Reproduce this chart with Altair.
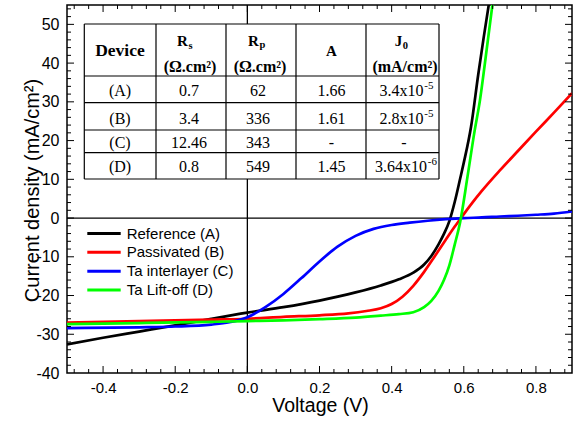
import altair as alt
import pandas as pd

# ---------------- data ----------------
names = ["Reference (A)", "Passivated (B)", "Ta interlayer (C)", "Ta Lift-off (D)"]
colors = ["#000000", "#ff0000", "#0000ff", "#00ff00"]

v_ref = [-0.5, -0.4, -0.3, -0.2, -0.1, 0.0, 0.1, 0.2, 0.3, 0.37, 0.42, 0.46, 0.49, 0.51,
         0.53, 0.545, 0.56, 0.575, 0.59, 0.6, 0.62, 0.64, 0.655, 0.67]
j_ref = [-32.6, -30.9, -29.3, -27.7, -26.0, -24.4, -23.0, -21.3, -19.2, -17.4, -15.8, -14.1,
         -12.0, -9.8, -6.8, -4.1, -0.8, 4.2, 10.2, 14.3, 23.5, 37.0, 46.5, 55.5]

v_pas = [-0.5, -0.3, -0.1, 0.0, 0.1, 0.2, 0.28, 0.33, 0.37, 0.4, 0.43, 0.46, 0.49, 0.52,
         0.55, 0.575, 0.6, 0.625, 0.65, 0.7, 0.75, 0.8, 0.85, 0.9]
j_pas = [-27.0, -26.6, -26.2, -26.0, -25.5, -25.1, -24.6, -24.0, -23.3, -22.2, -20.3, -17.5,
         -13.9, -9.8, -5.6, -2.2, 1.0, 4.1, 7.0, 12.3, 17.3, 22.3, 27.2, 32.2]

v_ta = [-0.5, -0.3, -0.2, -0.1, -0.05, 0.0, 0.05, 0.1, 0.15, 0.2, 0.25, 0.3, 0.35, 0.4,
        0.45, 0.5, 0.55, 0.6, 0.65, 0.7, 0.75, 0.8, 0.85, 0.9]
j_ta = [-28.4, -28.2, -28.0, -27.5, -26.9, -25.6, -23.0, -19.6, -15.5, -11.2, -7.4, -4.6,
        -2.8, -1.8, -1.2, -0.7, -0.3, 0.0, 0.15, 0.4, 0.6, 0.85, 1.15, 1.7]

v_lift = [-0.5, -0.3, -0.1, 0.0, 0.1, 0.2, 0.3, 0.37, 0.42, 0.46, 0.49, 0.51, 0.53, 0.545,
          0.56, 0.575, 0.59, 0.61, 0.63, 0.645, 0.66, 0.68]
j_lift = [-27.4, -27.1, -26.8, -26.6, -26.4, -26.1, -25.7, -25.2, -24.8, -24.3, -23.0, -21.4,
          -18.8, -16.0, -12.2, -6.8, -1.0, 10.5, 22.5, 30.5, 41.0, 55.5]

x_tick_labels = [-0.4, -0.2, 0.0, 0.2, 0.4, 0.6, 0.8]
y_tick_labels = [-40, -30, -20, -10, 0, 10, 20, 30, 40, 50]

tbl_device = ["(A)", "(B)", "(C)", "(D)"]
tbl_rs = ["0.7", "3.4", "12.46", "0.8"]
tbl_rp = ["62", "336", "343", "549"]
tbl_a = ["1.66", "1.61", "-", "1.45"]
tbl_j0 = ["3.4x10", "2.8x10", "-", "3.64x10"]
tbl_j0_exp = ["-5", "-5", "", "-6"]

# ---------------- layout ----------------
W, H = 505, 368
LEFT, TOP = 67, 5
XMIN, XMAX = -0.5, 0.9
YMIN, YMAX = -40, 55
SANS = "Liberation Sans"
SERIF = "Liberation Serif"


def vx(px):
    return XMIN + (px - LEFT) * (XMAX - XMIN) / W


def jy(py):
    return YMAX - (py - TOP) * (YMAX - YMIN) / H


xs = alt.Scale(domain=[XMIN, XMAX], nice=False, zero=False)
ys = alt.Scale(domain=[YMIN, YMAX], nice=False, zero=False)
cs = alt.Scale(domain=names, range=colors)

curves = pd.concat([
    pd.DataFrame({"V": v, "J": j, "series": n, "order": k})
    for k, (n, v, j) in enumerate(zip(names, [v_ref, v_pas, v_ta, v_lift],
                                      [j_ref, j_pas, j_ta, j_lift]))
])

x_axis = alt.Axis(
    values=x_tick_labels,
    labelExpr="(datum.value < 0 ? '-' : '') + format(abs(datum.value), '.1f')",
    ticks=False, tickSize=0, domain=False, grid=False,
    labelFont=SANS, labelFontSize=15, labelColor="black", labelPadding=19,
    labelBaseline="alphabetic", labelFlush=False, labelOverlap=False,
    title="Voltage (V)", titleFont=SANS, titleFontSize=19.5, titleFontWeight="normal",
    titleColor="black", titleBaseline="alphabetic", titleX=253, titleY=38.5,
)
y_axis = alt.Axis(
    values=y_tick_labels,
    labelExpr="(datum.value < 0 ? '-' : '') + format(abs(datum.value), 'd')",
    ticks=False, tickSize=0, domain=False, grid=False,
    labelFont=SANS, labelFontSize=16, labelColor="black", labelPadding=8,
    labelFlush=False, labelOverlap=False,
    title="Current density (mA/cm²)", titleFont=SANS, titleFontSize=20,
    titleFontWeight="normal", titleColor="black", titleBaseline="alphabetic",
    titleAngle=270, titleX=-29, titleY=185,
)

lines = alt.Chart(curves).mark_line(strokeWidth=2.7, interpolate="monotone", clip=True).encode(
    x=alt.X("V:Q", scale=xs, axis=x_axis),
    y=alt.Y("J:Q", scale=ys, axis=y_axis),
    color=alt.Color("series:N", scale=cs, legend=None),
    order=alt.Order("order:Q"),
)

zero_v = alt.Chart(pd.DataFrame({"V": [0.0]})).mark_rule(color="black", strokeWidth=1.3).encode(
    x=alt.X("V:Q", scale=xs))
zero_h = alt.Chart(pd.DataFrame({"J": [0.0]})).mark_rule(color="black", strokeWidth=1.3).encode(
    y=alt.Y("J:Q", scale=ys))

# ---- inward ticks on all four sides ----
x_minor = [round(-0.48 + 0.04 * i, 2) for i in range(35)]
x_minor = [v for v in x_minor if abs(v / 0.2 - round(v / 0.2)) > 1e-6]
y_minor = [v for v in range(-38, 55, 2) if v % 10 != 0]
y_major_ticks = [v for v in range(-30, 55, 10)]
x_major_df = pd.DataFrame({"V": x_tick_labels})
x_minor_df = pd.DataFrame({"V": x_minor})
y_major_df = pd.DataFrame({"J": y_major_ticks})
y_minor_df = pd.DataFrame({"J": y_minor})

tick_layers = []
for df, ln in [(x_major_df, 7), (x_minor_df, 4)]:
    tick_layers.append(alt.Chart(df).mark_rule(color="black", strokeWidth=1).encode(
        x=alt.X("V:Q", scale=xs), y=alt.value(H), y2=alt.value(H - ln)))
    tick_layers.append(alt.Chart(df).mark_rule(color="black", strokeWidth=1).encode(
        x=alt.X("V:Q", scale=xs), y=alt.value(0), y2=alt.value(ln)))
for df, ln in [(y_major_df, 7), (y_minor_df, 4)]:
    tick_layers.append(alt.Chart(df).mark_rule(color="black", strokeWidth=1).encode(
        y=alt.Y("J:Q", scale=ys), x=alt.value(0), x2=alt.value(ln)))
    tick_layers.append(alt.Chart(df).mark_rule(color="black", strokeWidth=1).encode(
        y=alt.Y("J:Q", scale=ys), x=alt.value(W), x2=alt.value(W - ln)))

# ---- inset table ----
col_edges = [84.3, 156, 226, 296, 366, 439]
row_edges = [24, 76, 102.7, 130, 152.7, 179]
row_mid = [91.3, 118.7, 142.8, 167]
col_mid = [120, 189, 258, 331.5, 404]

tbl_bg = alt.Chart(pd.DataFrame({
    "V": [vx(col_edges[0])], "V2": [vx(col_edges[-1])],
    "J": [jy(row_edges[0])], "J2": [jy(row_edges[-1])]})).mark_rect(
    fill="white").encode(
    x=alt.X("V:Q", scale=xs), x2="V2:Q", y=alt.Y("J:Q", scale=ys), y2="J2:Q")

seg = []
for cx in col_edges:
    seg.append({"V": vx(cx), "V2": vx(cx), "J": jy(row_edges[0]), "J2": jy(row_edges[-1])})
for ry in row_edges:
    seg.append({"V": vx(col_edges[0]), "V2": vx(col_edges[-1]), "J": jy(ry), "J2": jy(ry)})
tbl_lines = alt.Chart(pd.DataFrame(seg)).mark_rule(color="black", strokeWidth=1.2).encode(
    x=alt.X("V:Q", scale=xs), x2="V2:Q", y=alt.Y("J:Q", scale=ys), y2="J2:Q")


def text_layer(rows, size, weight="normal", align="center", font=SERIF):
    df = pd.DataFrame([{"V": vx(px), "J": jy(py), "t": t} for t, px, py in rows])
    return alt.Chart(df).mark_text(
        font=font, fontSize=size, fontWeight=weight, align=align, baseline="middle",
        color="black").encode(
        x=alt.X("V:Q", scale=xs), y=alt.Y("J:Q", scale=ys), text="t:N")


body_rows = []
for i in range(4):
    body_rows.append((tbl_device[i], col_mid[0], row_mid[i]))
    body_rows.append((tbl_rs[i], col_mid[1], row_mid[i]))
    body_rows.append((tbl_rp[i], col_mid[2], row_mid[i]))
    body_rows.append((tbl_a[i], col_mid[3], row_mid[i]))
    if tbl_j0_exp[i] == "":
        body_rows.append((tbl_j0[i], col_mid[4], row_mid[i]))

j0_right = [423.5, 423.5, None, 427.0]
mant_rows = [(tbl_j0[i], j0_right[i], row_mid[i]) for i in range(4) if tbl_j0_exp[i]]
exp_rows = [(tbl_j0_exp[i], j0_right[i] + 0.8, row_mid[i] - 5.2) for i in range(4) if tbl_j0_exp[i]]

hdr_big = [("Device", 120, 50.8)]
hdr_sym_c = [("A", 331.5, 51)]
hdr_sym_r = [("R", 187.8, 40.8), ("R", 258.8, 40.8), ("J", 402.2, 41.2)]
hdr_sub = [("s", 188.6, 45.5), ("p", 259.6, 45.0), ("0", 402.8, 45.5)]
hdr_units = [("(Ω.cm²)", 190, 66.5), ("(Ω.cm²)", 260, 66.5), ("(mA/cm²)", 405, 66.5)]

table_layers = [
    tbl_bg, tbl_lines,
    text_layer(body_rows, 16),
    text_layer(mant_rows, 16, align="right"),
    text_layer(exp_rows, 11, align="left"),
    text_layer(hdr_big, 17.5, "bold"),
    text_layer(hdr_sym_c, 15, "bold"),
    text_layer(hdr_sym_r, 15, "bold", align="right"),
    text_layer(hdr_sub, 10.5, "bold", align="left"),
    text_layer(hdr_units, 16, "bold"),
]

# ---- legend (inside plot, lower left) ----
leg_y = [233.5, 252.3, 271.2, 290.0]
leg_df = pd.DataFrame({
    "V": [vx(87.3)] * 4, "V2": [vx(120.7)] * 4, "Vt": [vx(126.7)] * 4,
    "J": [jy(y) for y in leg_y], "series": names})
leg_lines = alt.Chart(leg_df).mark_rule(strokeWidth=3).encode(
    x=alt.X("V:Q", scale=xs), x2="V2:Q", y=alt.Y("J:Q", scale=ys),
    color=alt.Color("series:N", scale=cs, legend=None))
leg_text = alt.Chart(leg_df).mark_text(
    font=SANS, fontSize=15, align="left", baseline="middle", color="black").encode(
    x=alt.X("Vt:Q", scale=xs), y=alt.Y("J:Q", scale=ys), text="series:N")

chart = alt.layer(
    zero_v, zero_h, lines, *table_layers, leg_lines, leg_text, *tick_layers
).properties(
    width=W, height=H,
    padding={"left": LEFT, "top": TOP, "right": 579 - LEFT - W, "bottom": 422 - TOP - H},
    autosize=alt.AutoSizeParams(type="none"),
    background="white",
).configure_view(stroke="black", strokeWidth=1.5)

chart.save("out.html", embed_options={"renderer": "svg", "actions": False})
